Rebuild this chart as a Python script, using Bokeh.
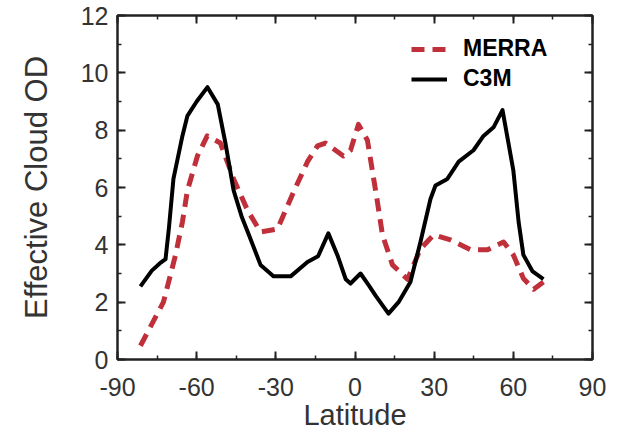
from bokeh.plotting import figure
from bokeh.models import (Range1d, SingleIntervalTicker, LinearAxis, Legend, LegendItem,
                          CustomLabelingPolicy)
from bokeh.embed import file_html
from bokeh.resources import INLINE

# Data
c3m_lat = [-81.3, -77, -74, -71.8, -70.5, -68.8, -65.4, -63.5, -60, -55.9, -52, -49, -46, -43, -40,
           -35.8, -30.9, -24.4, -18, -14, -10.1, -6.5, -3.5, -1.7, 2.1, 5.1, 8, 12.7, 16.5, 21,
           24.8, 28.6, 30.5, 35, 39.3, 44.9, 48.7, 52.5, 55.9, 60, 62, 63.8, 67.3, 71.4]
c3m_od = [2.55, 3.1, 3.35, 3.5, 4.6, 6.3, 7.8, 8.5, 9.0, 9.5, 8.9, 7.5, 5.9, 5.0, 4.3,
          3.3, 2.9, 2.9, 3.4, 3.6, 4.4, 3.6, 2.8, 2.65, 3.0, 2.6, 2.2, 1.6, 2.0, 2.7,
          4.1, 5.6, 6.07, 6.3, 6.9, 7.3, 7.8, 8.1, 8.7, 6.6, 4.8, 3.65, 3.07, 2.8]

merra_lat = [-81.3, -72.6, -68, -65.4, -63.5, -59.7, -56, -51, -46, -40.7, -35.8, -29.4, -23, -18,
             -14.2, -11.2, -4.4, -1.7, 1.3, 4.7, 8.5, 10.4, 14.2, 19.9, 24.8, 29.8, 36.2, 43.8,
             50.2, 56.3, 60, 63.8, 67.7, 71.4]
merra_od = [0.48, 2.0, 3.65, 4.8, 5.9, 7.1, 7.8, 7.55, 6.3, 5.2, 4.45, 4.55, 5.9, 6.9,
            7.45, 7.55, 7.1, 7.3, 8.2, 7.65, 5.5, 4.35, 3.3, 2.8, 3.86, 4.35, 4.17, 3.83,
            3.83, 4.1, 3.65, 2.83, 2.45, 2.7]

x_ticks = [-90, -60, -30, 0, 30, 60, 90]
x_tick_labels = ["-90", "-60", "-30", "0", "30", "60", "90"]
x_title = "Latitude"
y_title = "Effective Cloud OD"
series_names = ["MERRA", "C3M"]

FONT = "Liberation Sans"
AXIS_COLOR = "#222222"
TEXT_COLOR = "#333333"

p = figure(width=619, height=436, output_backend="svg", toolbar_location=None,
           x_range=Range1d(-90, 90), y_range=Range1d(0, 12),
           min_border_left=117, min_border_right=27, min_border_top=15, min_border_bottom=77,
           background_fill_color="white", border_fill_color="white")
p.grid.visible = False
p.outline_line_color = AXIS_COLOR
p.outline_line_width = 2

xt = SingleIntervalTicker(interval=30, num_minor_ticks=2)
yt = SingleIntervalTicker(interval=2, num_minor_ticks=2)

hide_labels = CustomLabelingPolicy(code="""
try { for (const i of Array.from(indices)) { indices.unset(i) } } catch (e) {}
return indices
""")

def style_axis(ax, labels=True):
    ax.axis_line_color = AXIS_COLOR
    ax.axis_line_width = 2
    ax.major_tick_line_color = AXIS_COLOR
    ax.minor_tick_line_color = AXIS_COLOR
    ax.major_tick_line_width = 2
    ax.minor_tick_line_width = 1.5
    ax.major_tick_in = 8
    ax.major_tick_out = 0
    ax.minor_tick_in = 4
    ax.minor_tick_out = 0
    if labels:
        ax.major_label_text_font = FONT
        ax.major_label_text_font_size = "25px"
        ax.major_label_text_color = TEXT_COLOR
        ax.axis_label_text_font = FONT
        ax.axis_label_text_font_style = "normal"
        ax.axis_label_text_color = TEXT_COLOR
    else:
        ax.major_label_text_font_size = "0px"
        ax.major_label_standoff = 0
        ax.major_label_policy = hide_labels

p.xaxis.ticker = xt
p.yaxis.ticker = yt
style_axis(p.xaxis[0])
style_axis(p.yaxis[0])
p.xaxis.major_label_overrides = dict(zip(x_ticks, x_tick_labels))
p.xaxis.axis_label = x_title
p.yaxis.axis_label = y_title
p.xaxis.axis_label_text_font_size = "29px"
p.yaxis.axis_label_text_font_size = "31px"
p.xaxis.major_label_standoff = 18
p.yaxis.major_label_standoff = 9
p.xaxis.axis_label_standoff = 0
p.yaxis.axis_label_standoff = 24

top_ax = LinearAxis(ticker=xt)
right_ax = LinearAxis(ticker=yt)
style_axis(top_ax, labels=False)
style_axis(right_ax, labels=False)
p.add_layout(top_ax, "above")
p.add_layout(right_ax, "right")

r_merra = p.line(merra_lat, merra_od, line_color="#c0303a", line_width=5, line_dash="13 8",
                 line_join="round")
r_c3m = p.line(c3m_lat, c3m_od, line_color="black", line_width=4, line_join="round")

legend = Legend(items=[LegendItem(label=series_names[0], renderers=[r_merra]),
                       LegendItem(label=series_names[1], renderers=[r_c3m])],
                location=(294, 267), orientation="vertical",
                label_text_font=FONT, label_text_font_size="23px", label_text_font_style="bold",
                label_text_color="black", glyph_width=36, glyph_height=26, label_height=26,
                label_standoff=16, spacing=3, padding=4, margin=0,
                border_line_color=None, background_fill_color="white", background_fill_alpha=1)
p.add_layout(legend, "center")

open("out.html", "w").write(file_html(p, INLINE))
